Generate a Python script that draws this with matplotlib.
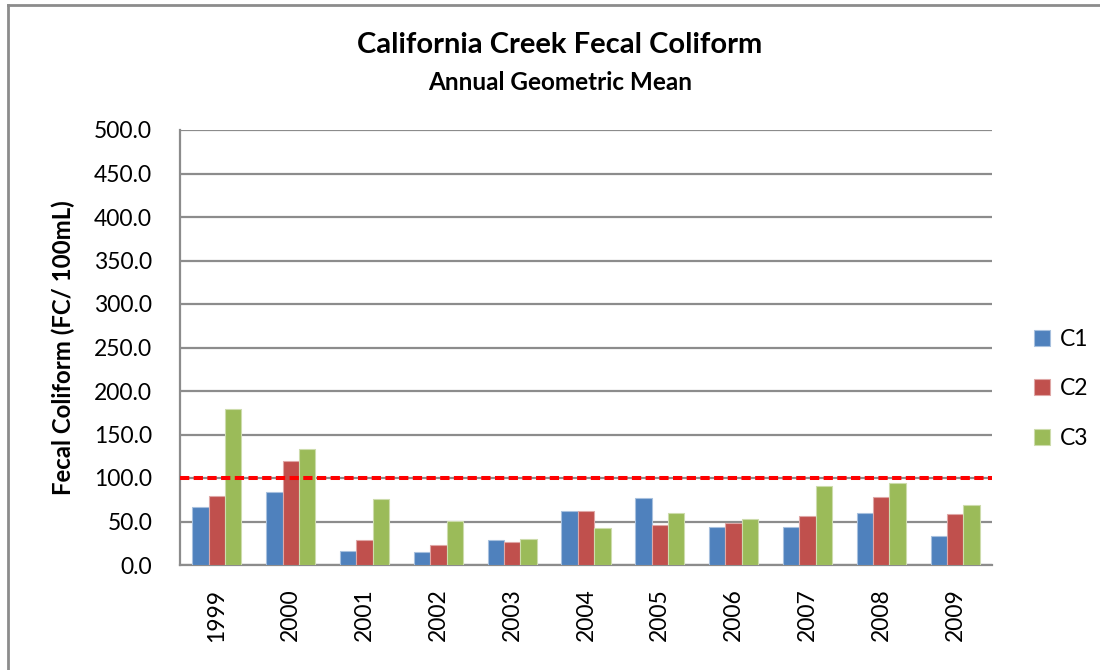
import numpy as np
import matplotlib.pyplot as plt
from matplotlib.lines import Line2D

# Datos
anios = ['1999', '2000', '2001', '2002', '2003', '2004', '2005', '2006', '2007', '2008', '2009']
c1 = [66.5, 84.2, 15.8, 14.6, 28.8, 61.9, 77.3, 44.2, 44.2, 59.6, 33.1]
c2 = [79.2, 120.0, 28.5, 22.7, 26.2, 61.9, 46.5, 48.8, 56.2, 78.4, 58.5]
c3 = [179.6, 133.0, 76.0, 51.1, 29.6, 42.7, 60.0, 53.0, 90.3, 94.6, 68.4]
limite = 100.0

colores = ['#4f81bd', '#c0504d', '#9bbb59']
bordes = ['#a7c0de', '#dfa7a6', '#cddcac']

fuente = 'Lato'
plt.rcParams['font.family'] = [fuente, 'DejaVu Sans']

fig = plt.figure(figsize=(11, 6.7), dpi=100)
ax = fig.add_axes([180 / 1100, 105 / 670, 812 / 1100, 435 / 670])

x = np.arange(len(anios))
ancho = 0.222
for i, (serie, nombre) in enumerate(zip([c1, c2, c3], ['C1', 'C2', 'C3'])):
    ax.bar(x + (i - 1) * ancho, serie, width=ancho, color=colores[i],
           edgecolor=bordes[i], linewidth=0.8, label=nombre, zorder=3)

# Linea de referencia
ax.axhline(limite, color='#ff0000', linestyle=(0, (2.3, 1.1)), linewidth=2.9, zorder=4)

ax.set_xlim(-0.5, len(anios) - 0.5)
ax.set_ylim(0, 500)
ax.set_yticks(np.arange(0, 501, 50))
ax.set_yticklabels([f'{v:.1f}' for v in np.arange(0, 501, 50)])
ax.set_xticks(x)
ax.set_xticklabels(anios, rotation=90)
ax.tick_params(axis='both', length=0, labelsize=16.5, colors='black')
ax.tick_params(axis='y', pad=20)
ax.tick_params(axis='x', pad=17)

ax.yaxis.grid(True, color='#8c8c8c', linewidth=1.6, zorder=0)
ax.set_axisbelow(True)
for lado in ['top', 'right']:
    ax.spines[lado].set_visible(False)
for lado in ['left', 'bottom']:
    ax.spines[lado].set_color('#8c8c8c')
    ax.spines[lado].set_linewidth(1.6)

ax.set_ylabel('Fecal Coliform (FC/ 100mL)', fontsize=17.3, fontweight='bold', labelpad=14)

fig.text(0.509, 1 - 45 / 670, 'California Creek Fecal Coliform', ha='center', va='center',
         fontsize=21, fontweight='bold')
fig.text(0.509, 1 - 82 / 670, 'Annual Geometric Mean', ha='center', va='center',
         fontsize=17.5, fontweight='bold')

leg = fig.legend(loc='upper left', bbox_to_anchor=(1013 / 1100, 1 - 308 / 670),
                 frameon=False, handlelength=0.7, handleheight=0.7,
                 handletextpad=0.45, labelspacing=1.25, prop={'size': 16.5})

# Borde exterior del grafico (solo arriba e izquierda visibles)
fig.add_artist(Line2D([8 / 1100, 8 / 1100], [0, 1 - 5 / 670], color='#8c8c8c',
                      linewidth=2, transform=fig.transFigure))
fig.add_artist(Line2D([8 / 1100, 1], [1 - 5 / 670, 1 - 5 / 670], color='#8c8c8c',
                      linewidth=2, transform=fig.transFigure))

fig.savefig('out.png', dpi=100)
